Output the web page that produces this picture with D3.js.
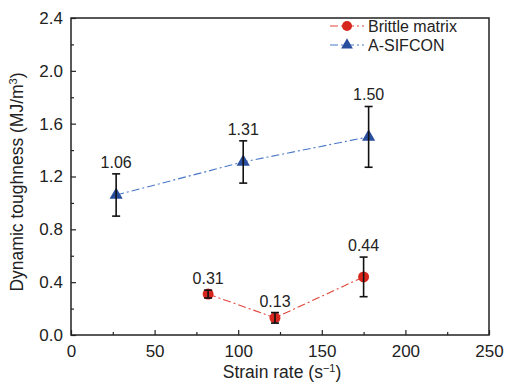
<!DOCTYPE html>
<html>
<head>
<meta charset="utf-8">
<script src="https://cdn.jsdelivr.net/npm/d3@7"></script>
<style>
  html, body { margin: 0; padding: 0; background: #fff; }
  svg { display: block; font-family: "Liberation Sans", Arial, sans-serif; }
</style>
</head>
<body>
<svg id="chart" width="507" height="383"></svg>
<script>
// Brittle matrix series
const brittleRate = [82, 122, 175];
const brittleTough = [0.31, 0.13, 0.44];
const brittleErr = [0.03, 0.04, 0.15];

// A-SIFCON series
const sifconRate = [27, 103, 178];
const sifconTough = [1.06, 1.31, 1.50];
const sifconErr = [0.16, 0.16, 0.23];

const xTicks = [0, 50, 100, 150, 200, 250];
const yTicks = [0.0, 0.4, 0.8, 1.2, 1.6, 2.0, 2.4];

const svg = d3.select("#chart");
const M = { left: 71, right: 489, top: 18, bottom: 335 };

const x = d3.scaleLinear().domain([0, 250]).range([M.left, M.right]);
const y = d3.scaleLinear().domain([0, 2.4]).range([M.bottom, M.top]);

// minor ticks
const xMinor = d3.range(25, 250, 50);
const yMinor = d3.range(0.2, 2.4, 0.4);

const gx = svg.append("g").attr("transform", `translate(0,${M.bottom})`)
  .call(d3.axisBottom(x).tickValues(xTicks).tickSizeInner(-5).tickSizeOuter(0).tickPadding(10).tickFormat(d3.format("d")));
const gy = svg.append("g").attr("transform", `translate(${M.left},0)`)
  .call(d3.axisLeft(y).tickValues(yTicks).tickSizeInner(-5).tickSizeOuter(0).tickPadding(8).tickFormat(d3.format(".1f")));
[gx, gy].forEach(g => {
  g.select(".domain").remove();
  g.selectAll("line").attr("stroke", "#222").attr("stroke-width", 1.2);
  g.selectAll("text").attr("font-size", 17).attr("fill", "#222")
    .attr("font-family", "Liberation Sans, Arial, sans-serif");
});
svg.append("g").attr("transform", `translate(0,${M.bottom})`)
  .call(d3.axisBottom(x).tickValues(xMinor).tickSizeInner(-3).tickSizeOuter(0).tickFormat(""))
  .call(g => g.select(".domain").remove())
  .selectAll("line").attr("stroke", "#222").attr("stroke-width", 1.2);
svg.append("g").attr("transform", `translate(${M.left},0)`)
  .call(d3.axisLeft(y).tickValues(yMinor).tickSizeInner(-3).tickSizeOuter(0).tickFormat(""))
  .call(g => g.select(".domain").remove())
  .selectAll("line").attr("stroke", "#222").attr("stroke-width", 1.2);

// frame
svg.append("rect")
  .attr("x", M.left).attr("y", M.top)
  .attr("width", M.right - M.left).attr("height", M.bottom - M.top)
  .attr("fill", "none").attr("stroke", "#222").attr("stroke-width", 1.5);

// axis titles
const xt = svg.append("text")
  .attr("x", 282).attr("y", 378)
  .attr("text-anchor", "middle").attr("font-size", 17.5).attr("fill", "#222");
xt.append("tspan").text("Strain rate (s");
xt.append("tspan").attr("dy", -6).attr("font-size", 11).text("−1");
xt.append("tspan").attr("dy", 6).text(")");

const yt = svg.append("text")
  .attr("transform", `translate(23,182) rotate(-90)`)
  .attr("text-anchor", "middle").attr("font-size", 17.5).attr("fill", "#222");
yt.append("tspan").text("Dynamic toughness (MJ/m");
yt.append("tspan").attr("dy", -6).attr("font-size", 11).text("3");
yt.append("tspan").attr("dy", 6).text(")");

function drawSeries(rates, vals, errs, lineColor, markColor, shape) {
  const pts = rates.map((r, i) => ({ r, v: vals[i], e: errs[i] }));
  const line = d3.line().x(d => x(d.r)).y(d => y(d.v));
  svg.append("path").datum(pts).attr("d", line)
    .attr("fill", "none").attr("stroke", lineColor).attr("stroke-width", 1.1)
    .attr("stroke-dasharray", "8,3,2,3");

  const g = svg.append("g");
  pts.forEach(d => {
    const cx = x(d.r);
    if (shape === "circle") {
      g.append("circle").attr("cx", cx).attr("cy", y(d.v)).attr("r", 5.5).attr("fill", markColor);
    } else {
      g.append("path").attr("transform", `translate(${cx},${y(d.v)})`)
        .attr("d", d3.symbol(d3.symbolTriangle, 75)()).attr("fill", markColor);
    }
    // error bar
    g.append("line").attr("x1", cx).attr("x2", cx).attr("y1", y(d.v + d.e)).attr("y2", y(d.v - d.e))
      .attr("stroke", "#111").attr("stroke-width", 1.6);
    [d.v + d.e, d.v - d.e].forEach(v => {
      g.append("line").attr("x1", cx - 4).attr("x2", cx + 4).attr("y1", y(v)).attr("y2", y(v))
        .attr("stroke", "#111").attr("stroke-width", 1.6);
    });
    g.append("text").attr("x", cx).attr("y", y(d.v + d.e) - 6)
      .attr("text-anchor", "middle").attr("font-size", 16).attr("fill", "#222")
      .text(d.v.toFixed(2));
  });
}

drawSeries(brittleRate, brittleTough, brittleErr, "#e0453a", "#d7261e", "circle");
drawSeries(sifconRate, sifconTough, sifconErr, "#4a78c8", "#2a4e9e", "triangle");

// legend
const legend = [
  { name: "Brittle matrix", lc: "#e0453a", mc: "#d7261e", shape: "circle", yy: 26 },
  { name: "A-SIFCON", lc: "#4a78c8", mc: "#2a4e9e", shape: "triangle", yy: 45 }
];
legend.forEach(l => {
  svg.append("line").attr("x1", 330).attr("x2", 364).attr("y1", l.yy).attr("y2", l.yy)
    .attr("stroke", l.lc).attr("stroke-width", 1.1).attr("stroke-dasharray", "8,3,2,3");
  if (l.shape === "circle") {
    svg.append("circle").attr("cx", 347).attr("cy", l.yy).attr("r", 5).attr("fill", l.mc);
  } else {
    svg.append("path").attr("transform", `translate(347,${l.yy})`)
      .attr("d", d3.symbol(d3.symbolTriangle, 60)()).attr("fill", l.mc);
  }
  svg.append("text").attr("x", 368).attr("y", l.yy + 5.5)
    .attr("font-size", 16).attr("fill", "#222").text(l.name);
});
</script>
</body>
</html>
